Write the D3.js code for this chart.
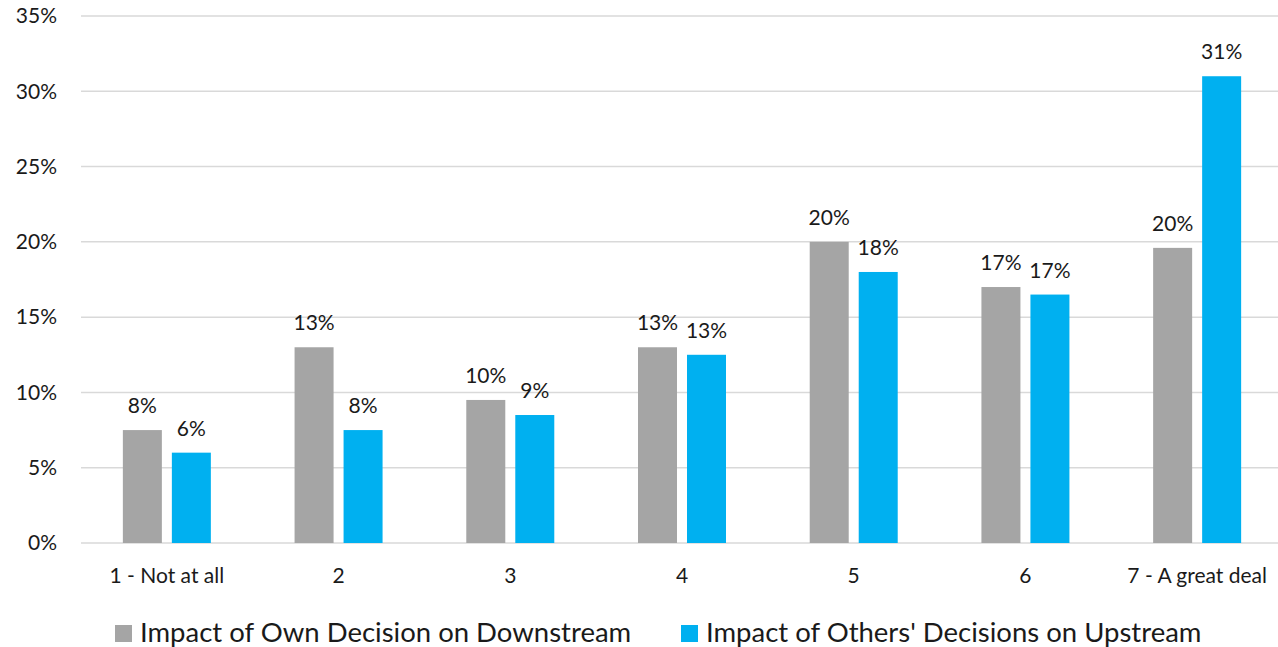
<!DOCTYPE html>
<html>
<head>
<meta charset="utf-8">
<script src="https://cdn.jsdelivr.net/npm/d3@7"></script>
<style>
  body { margin: 0; background: #fff; }
  svg text { font-family: Lato, "Open Sans", sans-serif; fill: #1a1a1a; }
</style>
</head>
<body>
<div id="chart"></div>
<script>
// data
var categories = ["1 - Not at all", "2", "3", "4", "5", "6", "7 - A great deal"];
var seriesNames = ["Impact of Own Decision on Downstream", "Impact of Others' Decisions on Upstream"];
var ownValues = [7.5, 13, 9.5, 13, 20, 17, 19.6];
var othersValues = [6, 7.5, 8.5, 12.5, 18, 16.5, 31];
var yTicks = [0, 5, 10, 15, 20, 25, 30, 35];
var colors = ["#a5a5a5", "#00b0f0"];

var width = 1278, height = 647;
var margin = { top: 16, right: -5, bottom: 104, left: 81 };
var innerW = width - margin.left - margin.right,
    innerH = height - margin.top - margin.bottom;

var svg = d3.select("#chart").append("svg")
  .attr("width", width)
  .attr("height", height);

var g = svg.append("g")
  .attr("transform", "translate(" + margin.left + "," + margin.top + ")");

var x = d3.scaleBand().domain(categories).range([0, innerW]);
var y = d3.scaleLinear().domain([0, 35]).range([innerH, 0]);

// gridlines
g.selectAll(".grid")
  .data(yTicks)
  .enter()
  .append("line")
  .attr("x1", 0)
  .attr("x2", width - margin.left)
  .attr("y1", function(d) { return y(d); })
  .attr("y2", function(d) { return y(d); })
  .attr("stroke", "#d9d9d9")
  .attr("stroke-width", 1.5);

// y axis labels
g.append("g")
  .call(d3.axisLeft(y).tickValues(yTicks).tickSize(0).tickPadding(24).tickFormat(function(d) { return d + "%"; }))
  .call(function(a) { a.select(".domain").remove(); })
  .selectAll("text")
  .style("font-size", "21px");

// x axis labels
g.append("g")
  .attr("transform", "translate(0," + innerH + ")")
  .call(d3.axisBottom(x).tickSize(0).tickPadding(25))
  .call(function(a) { a.select(".domain").remove(); })
  .selectAll("text")
  .style("font-size", "21px");

var barW = 39, gap = 10;
var rows = categories.map(function(c, i) {
  return [
    { cat: c, s: 0, v: ownValues[i] },
    { cat: c, s: 1, v: othersValues[i] }
  ];
});
var flat = [].concat.apply([], rows);

function barX(d) {
  var c = x(d.cat) + x.bandwidth() / 2;
  return d.s === 0 ? c - gap / 2 - barW : c + gap / 2;
}

g.selectAll(".bar")
  .data(flat)
  .enter()
  .append("rect")
  .attr("x", barX)
  .attr("y", function(d) { return y(d.v); })
  .attr("width", barW)
  .attr("height", function(d) { return innerH - y(d.v); })
  .attr("fill", function(d) { return colors[d.s]; });

g.selectAll(".label")
  .data(flat)
  .enter()
  .append("text")
  .attr("x", function(d) { return barX(d) + barW / 2; })
  .attr("y", function(d) { return y(d.v) - 17; })
  .attr("text-anchor", "middle")
  .style("font-size", "21px")
  .text(function(d) { return Math.round(d.v) + "%"; });

// legend
var legendX = [115, 681];
var legend = svg.selectAll(".legend")
  .data(seriesNames)
  .enter()
  .append("g")
  .attr("transform", function(d, i) { return "translate(" + legendX[i] + ",625)"; });

legend.append("rect")
  .attr("width", 17)
  .attr("height", 17)
  .attr("fill", function(d, i) { return colors[i]; });

legend.append("text")
  .attr("x", 25)
  .attr("y", 17)
  .style("font-size", "27.5px")
  .text(function(d) { return d; });
</script>
</body>
</html>
